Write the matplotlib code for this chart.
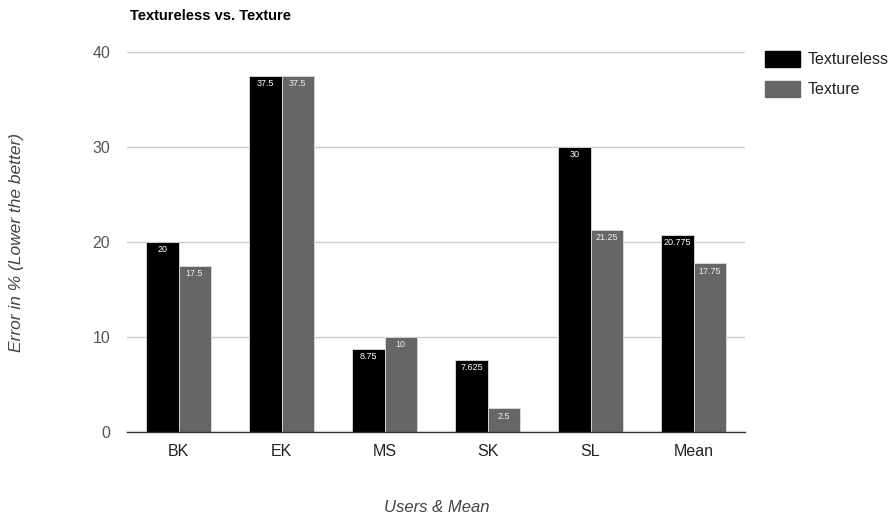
import matplotlib
matplotlib.use("Agg")
import matplotlib.pyplot as plt
import numpy as np

plt.rcParams['font.family'] = ['Liberation Sans', 'DejaVu Sans']

categories = ["BK", "EK", "MS", "SK", "SL", "Mean"]
textureless = [20, 37.5, 8.75, 7.625, 30, 20.775]
texture = [17.5, 37.5, 10, 2.5, 21.25, 17.75]
value_labels_textureless = ["20", "37.5", "8.75", "7.625", "30", "20.775"]
value_labels_texture = ["17.5", "37.5", "10", "2.5", "21.25", "17.75"]
series_names = ["Textureless", "Texture"]
yticks = [0, 10, 20, 30, 40]

fig = plt.figure(figsize=(8.96, 5.17), dpi=100)
ax = fig.add_axes([127 / 896, 1 - 432 / 517, 618 / 896, 380 / 517])

x = np.arange(len(categories))
w = 0.312
colors = ["#000000", "#666666"]
bars1 = ax.bar(x - w / 2, textureless, w, color=colors[0], edgecolor="#dddddd", linewidth=0.6, zorder=3)
bars2 = ax.bar(x + w / 2, texture, w, color=colors[1], edgecolor="#dddddd", linewidth=0.6, zorder=3)

for bars, labels, col in ((bars1, value_labels_textureless, "white"), (bars2, value_labels_texture, "#f0f0f0")):
    for b, lab in zip(bars, labels):
        ax.text(b.get_x() + b.get_width() / 2, b.get_height() - 0.35, lab,
                ha="center", va="top", fontsize=6.5, color=col, zorder=4)

ax.set_xlim(-0.5, len(categories) - 0.5)
ax.set_ylim(0, 40)
ax.set_yticks(yticks)
ax.set_yticklabels([str(t) for t in yticks], fontsize=11.5, color="#555555")
ax.set_xticks(x)
ax.set_xticklabels(categories, fontsize=11.5, color="#222222")
ax.tick_params(axis="both", length=0)
ax.tick_params(axis="y", pad=12)
ax.tick_params(axis="x", pad=9)
ax.grid(axis="y", color="#cccccc", linewidth=1, zorder=0)
for s in ["top", "right", "left"]:
    ax.spines[s].set_visible(False)
ax.spines["bottom"].set_color("#333333")
ax.spines["bottom"].set_linewidth(1)
ax.spines["bottom"].set_zorder(5)

fig.text(437 / 896, 1 - 507 / 517, "Users & Mean", fontsize=12, style="italic",
         color="#444444", ha="center", va="center")
fig.text(17 / 896, 1 - 242 / 517, "Error in % (Lower the better)", fontsize=12.5, style="italic",
         color="#444444", ha="center", va="center", rotation=90)

fig.text(130 / 896, 1 - 16 / 517, "Textureless vs. Texture", fontsize=10.5, fontweight="bold",
         ha="left", va="center", color="#000000")

# legend drawn as swatches and labels on the right margin
for i, (name, col) in enumerate(zip(series_names, colors)):
    yc = 1 - (59 + i * 30) / 517
    fig.patches.append(plt.Rectangle((765 / 896, yc - 8 / 517), 35 / 896, 16 / 517,
                                     transform=fig.transFigure, color=col, figure=fig))
    fig.text(808 / 896, yc, name, fontsize=11.5, ha="left", va="center", color="#222222")

fig.savefig("out.png", dpi=100)
